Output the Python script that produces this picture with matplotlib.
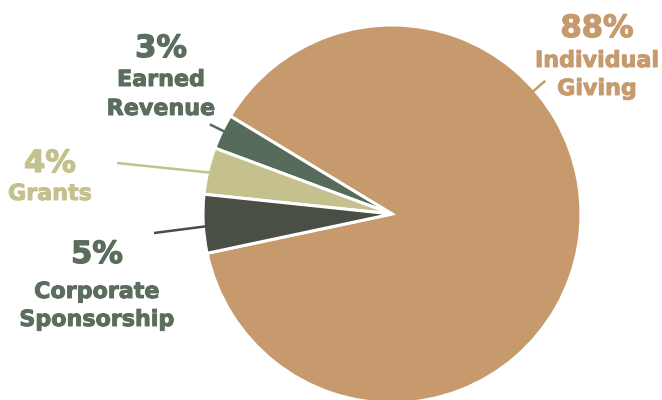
import numpy as np
import matplotlib
matplotlib.use("Agg")
import matplotlib.pyplot as plt
import matplotlib.patheffects as pe

# ---- data ----
categories = ["Individual Giving", "Earned Revenue", "Grants", "Corporate Sponsorship"]
shares = [88, 3, 4, 5]
pct_labels = ["88%", "3%", "4%", "5%"]
name_labels = [["Individual", "Giving"], ["Earned", "Revenue"], ["Grants"], ["Corporate", "Sponsorship"]]

# ---- style ----
slice_colors = ["#C69A6D", "#576B5A", "#C5C18E", "#4A4F45"]
text_colors = ["#C69A6D", "#5B6D5C", "#C5C18E", "#5B6D5C"]
line_colors = ["#C69A6D", "#576B5A", "#C5C18E", "#4A4F45"]

W, H = 662, 400
fig = plt.figure(figsize=(W / 100, H / 100), dpi=100)
ax = fig.add_axes([0, 0, 1, 1])

cx, cy = 392, H - 214
R = 189
wedges, _ = ax.pie(shares, colors=slice_colors, startangle=-168, counterclock=True,
                   center=(cx, cy), radius=R, frame=True,
                   wedgeprops=dict(edgecolor="white", linewidth=2.2))
ax.set_xlim(0, W)
ax.set_ylim(0, H)
ax.set_aspect("equal")
ax.axis("off")

FONT = "DejaVu Sans"
# label layout: x centre, baselines (image px) for pct line and name lines
layout = [
    (597, [37, 67, 95]),
    (161, [57, 86, 115]),
    (50, [172, 200]),
    (97, [263, 298, 326]),
]
for i, (x, bases) in enumerate(layout):
    ax.text(x, H - bases[0], pct_labels[i], ha="center", va="baseline", fontsize=22,
            fontweight="bold", color=text_colors[i], family=FONT,
            path_effects=[pe.withStroke(linewidth=0.9, foreground=text_colors[i])])
    for j, nm in enumerate(name_labels[i]):
        ax.text(x, H - bases[j + 1], nm, ha="center", va="baseline", fontsize=16,
                fontweight="bold", color=text_colors[i], family=FONT,
                path_effects=[pe.withStroke(linewidth=0.7, foreground=text_colors[i])])

def polar(ang, r):
    a = np.deg2rad(ang)
    return cx + r * np.cos(a), cy + r * np.sin(a)

# connector lines: (angle deg, inner radius, outer radius)
conn = [
    (41, 175, 203),
    (153.8, 187, 203),
    (167.2, 187, None),
    (183.8, 187, None),
]
starts = [None, None, (117, 163), (154, 233)]
for i, (ang, r0, r1) in enumerate(conn):
    x0, y0 = polar(ang, r0)
    if starts[i] is None:
        x1, y1 = polar(ang, r1)
    else:
        x1, y1 = starts[i][0], H - starts[i][1]
    ax.plot([x0, x1], [y0, y1], color=line_colors[i], lw=1.8, solid_capstyle="butt")

fig.savefig("out.png", dpi=100, facecolor="white")
